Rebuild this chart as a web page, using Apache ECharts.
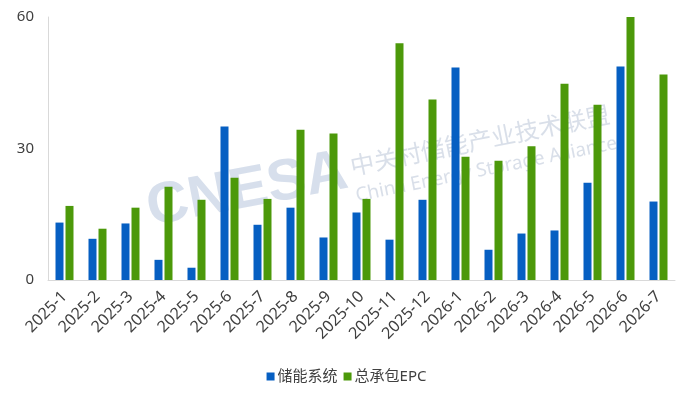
<!DOCTYPE html>
<html>
<head>
<meta charset="utf-8">
<script src="https://cdn.jsdelivr.net/npm/echarts@6/dist/echarts.min.js"></script>
<style>
  html, body { margin: 0; padding: 0; background: #fff; }
  #main { width: 693px; height: 404px; }
</style>
</head>
<body>
<div id="main"></div>
<script>
var months = ['2025-1', '2025-2', '2025-3', '2025-4', '2025-5', '2025-6', '2025-7',
  '2025-8', '2025-9', '2025-10', '2025-11', '2025-12', '2026-1', '2026-2',
  '2026-3', '2026-4', '2026-5', '2026-6', '2026-7'];

var storageSystem = [13.1, 9.4, 12.9, 4.6, 2.8, 35.0, 12.6, 16.5, 9.7, 15.4,
  9.2, 18.3, 48.5, 6.9, 10.6, 11.3, 22.2, 48.7, 17.9];

var epc = [16.9, 11.7, 16.5, 21.3, 18.3, 23.3, 18.5, 34.3, 33.4, 18.5,
  54.0, 41.2, 28.1, 27.2, 30.5, 44.8, 40.0, 60.0, 46.9];

var yTicks = [0, 30, 60];

var font = '"Noto Sans", "Noto Sans CJK SC", sans-serif';

var chart = echarts.init(document.getElementById('main'));

var option = {
  animation: false,
  textStyle: { fontFamily: font },
  grid: { left: 48, right: 18, top: 17, bottom: 124 },
  legend: {
    bottom: 15,
    left: 'center',
    itemWidth: 8,
    itemHeight: 8,
    itemGap: 6,
    icon: 'rect',
    textStyle: { fontSize: 15, color: '#404040', fontFamily: font, padding: [0, 0, 0, -2] },
    data: ['储能系统', '总承包EPC']
  },
  graphic: [
    {
      type: 'text', z: -10, left: 142, top: 143, rotation: 0.19,
      style: { text: 'CNESA', fill: 'rgba(175,192,218,0.5)', font: 'bold 58px "Liberation Sans", sans-serif' }
    },
    {
      type: 'text', z: -10, left: 348, top: 102, rotation: 0.2,
      style: { text: '中关村储能产业技术联盟', fill: 'rgba(180,192,212,0.5)', font: '24px "Noto Sans CJK SC", sans-serif' }
    },
    {
      type: 'text', z: -10, left: 354, top: 134, rotation: 0.2,
      style: { text: 'China Energy Storage Alliance', fill: 'rgba(180,192,212,0.5)', font: '19px "Noto Sans", sans-serif' }
    }
  ],
  xAxis: {
    type: 'category',
    data: months,
    axisLine: { lineStyle: { color: '#d9d9d9' } },
    axisTick: { show: false },
    axisLabel: { rotate: 45, interval: 0, fontSize: 16, color: '#404040', margin: 14 }
  },
  yAxis: {
    type: 'value',
    min: yTicks[0],
    max: yTicks[yTicks.length - 1],
    interval: 30,
    axisLine: { show: true, lineStyle: { color: '#d9d9d9' } },
    axisTick: { show: false },
    splitLine: { show: false },
    axisLabel: { fontSize: 15, color: '#404040', margin: 14 }
  },
  series: [
    {
      name: '储能系统',
      type: 'bar',
      data: storageSystem,
      barWidth: 8,
      barGap: '25%',
      itemStyle: { color: '#065fc2' }
    },
    {
      name: '总承包EPC',
      type: 'bar',
      data: epc,
      barWidth: 8,
      itemStyle: { color: '#4c990a' }
    }
  ]
};

chart.setOption(option);
</script>
</body>
</html>
